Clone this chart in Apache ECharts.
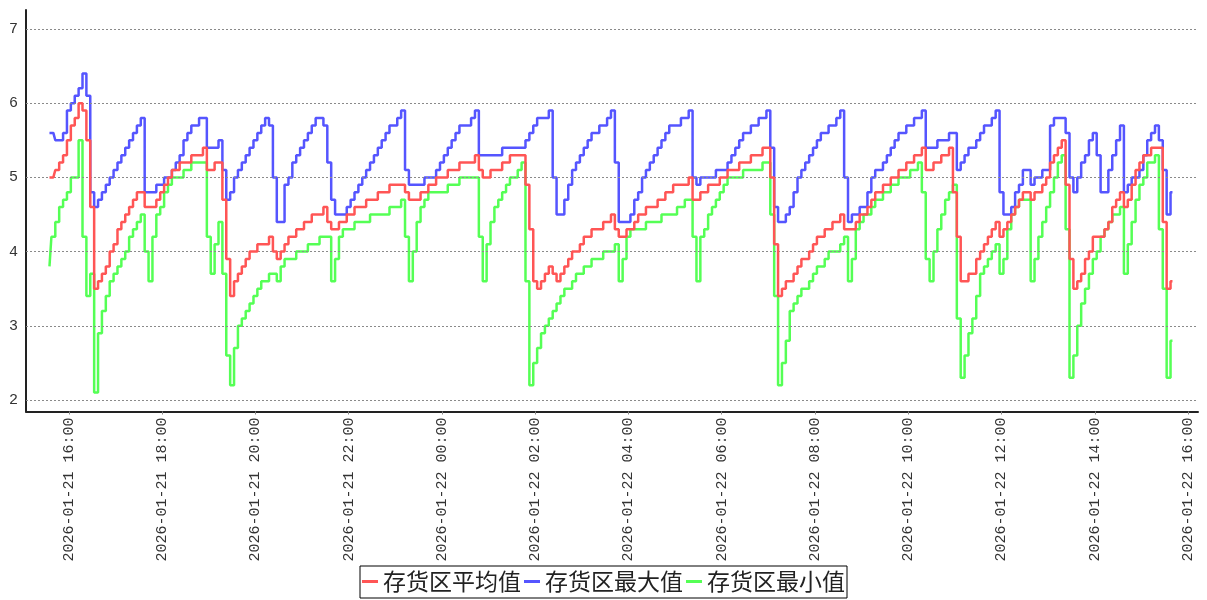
<!DOCTYPE html>
<html>
<head>
<meta charset="utf-8">
<script src="https://cdn.jsdelivr.net/npm/echarts@6/dist/echarts.min.js"></script>
<style>
  html, body { margin: 0; padding: 0; background: #fff; }
  #chart { width: 1207px; height: 600px; }
</style>
</head>
<body>
<div id="chart"></div>
<script>
// Inventory-zone readings, one sample every 5 minutes from 2026-01-21 15:35
const sampleStart = [2026, 0, 21, 15, 35];
const sampleStepMinutes = 5;

const seriesNames = ['存货区平均值', '存货区最大值', '存货区最小值'];

const avgValues = [
  5.0, 5.0, 5.1, 5.2, 5.3, 5.5, 5.7, 5.8, 6.0, 5.9,
  5.5, 4.6, 3.5, 3.6, 3.7, 3.8, 4.0, 4.1, 4.3, 4.4,
  4.5, 4.6, 4.7, 4.8, 4.8, 4.6, 4.6, 4.6, 4.7, 4.8,
  4.9, 5.0, 5.1, 5.1, 5.2, 5.2, 5.2, 5.3, 5.3, 5.3,
  5.4, 5.1, 5.1, 5.2, 5.2, 4.7, 3.9, 3.4, 3.6, 3.7,
  3.8, 3.9, 4.0, 4.0, 4.1, 4.1, 4.1, 4.2, 4.0, 3.9,
  4.0, 4.1, 4.2, 4.2, 4.3, 4.3, 4.4, 4.4, 4.5, 4.5,
  4.5, 4.6, 4.4, 4.3, 4.3, 4.4, 4.4, 4.5, 4.5, 4.6,
  4.6, 4.6, 4.7, 4.7, 4.7, 4.8, 4.8, 4.8, 4.9, 4.9,
  4.9, 4.9, 4.8, 4.7, 4.7, 4.7, 4.8, 4.8, 4.9, 4.9,
  5.0, 5.0, 5.0, 5.1, 5.1, 5.1, 5.2, 5.2, 5.2, 5.2,
  5.3, 5.1, 5.0, 5.0, 5.1, 5.1, 5.1, 5.2, 5.2, 5.3,
  5.3, 5.3, 5.3, 4.9, 4.3, 3.6, 3.5, 3.6, 3.7, 3.8,
  3.7, 3.6, 3.7, 3.8, 3.9, 4.0, 4.0, 4.1, 4.2, 4.2,
  4.3, 4.3, 4.3, 4.4, 4.4, 4.5, 4.3, 4.2, 4.2, 4.3,
  4.3, 4.4, 4.5, 4.5, 4.6, 4.6, 4.6, 4.7, 4.7, 4.8,
  4.8, 4.9, 4.9, 4.9, 4.9, 5.0, 4.7, 4.7, 4.8, 4.8,
  4.9, 4.9, 4.9, 5.0, 5.0, 5.1, 5.1, 5.1, 5.2, 5.2,
  5.2, 5.3, 5.3, 5.3, 5.4, 5.4, 5.0, 4.1, 3.4, 3.5,
  3.6, 3.6, 3.7, 3.8, 3.9, 3.9, 4.0, 4.1, 4.2, 4.2,
  4.3, 4.3, 4.4, 4.4, 4.5, 4.3, 4.3, 4.3, 4.4, 4.5,
  4.5, 4.6, 4.7, 4.8, 4.8, 4.9, 4.9, 5.0, 5.0, 5.1,
  5.1, 5.2, 5.2, 5.3, 5.3, 5.4, 5.1, 5.1, 5.2, 5.2,
  5.3, 5.3, 5.4, 4.8, 4.2, 3.6, 3.6, 3.7, 3.7, 3.9,
  4.0, 4.1, 4.2, 4.3, 4.4, 4.2, 4.3, 4.4, 4.5, 4.6,
  4.7, 4.8, 4.8, 4.7, 4.8, 4.8, 4.9, 5.0, 5.2, 5.3,
  5.4, 5.5, 4.9, 3.9, 3.5, 3.6, 3.7, 3.9, 4.0, 4.2,
  4.2, 4.2, 4.3, 4.4, 4.6, 4.7, 4.8, 4.6, 4.7, 4.9,
  5.1, 5.2, 5.3, 5.3, 5.4, 5.4, 5.4, 4.4, 3.5, 3.6
];

const maxValues = [
  5.6, 5.6, 5.5, 5.5, 5.6, 5.9, 6.0, 6.1, 6.2, 6.4,
  6.1, 4.8, 4.6, 4.7, 4.8, 4.9, 5.0, 5.1, 5.2, 5.3,
  5.4, 5.5, 5.6, 5.7, 5.8, 4.8, 4.8, 4.8, 4.9, 4.9,
  5.0, 5.0, 5.1, 5.2, 5.3, 5.5, 5.6, 5.7, 5.7, 5.8,
  5.8, 5.4, 5.4, 5.4, 5.5, 5.1, 4.7, 4.8, 5.0, 5.1,
  5.2, 5.3, 5.4, 5.5, 5.6, 5.7, 5.8, 5.7, 5.0, 4.4,
  4.4, 4.9, 5.0, 5.2, 5.3, 5.4, 5.5, 5.6, 5.7, 5.8,
  5.8, 5.7, 5.2, 4.7, 4.5, 4.5, 4.5, 4.6, 4.7, 4.8,
  4.9, 5.0, 5.1, 5.2, 5.3, 5.4, 5.5, 5.6, 5.7, 5.7,
  5.8, 5.9, 5.1, 4.9, 4.9, 4.9, 4.9, 5.0, 5.0, 5.0,
  5.1, 5.2, 5.3, 5.4, 5.5, 5.6, 5.7, 5.7, 5.7, 5.8,
  5.9, 5.3, 5.3, 5.3, 5.3, 5.3, 5.3, 5.4, 5.4, 5.4,
  5.4, 5.4, 5.4, 5.5, 5.6, 5.7, 5.8, 5.8, 5.8, 5.9,
  5.0, 4.5, 4.5, 4.7, 4.9, 5.1, 5.2, 5.3, 5.4, 5.5,
  5.6, 5.6, 5.7, 5.7, 5.8, 5.9, 5.2, 4.4, 4.4, 4.4,
  4.5, 4.7, 4.8, 5.0, 5.1, 5.2, 5.3, 5.4, 5.5, 5.6,
  5.7, 5.7, 5.7, 5.8, 5.8, 5.9, 5.0, 4.9, 5.0, 5.0,
  5.0, 5.0, 5.1, 5.1, 5.1, 5.2, 5.3, 5.4, 5.5, 5.6,
  5.6, 5.7, 5.7, 5.8, 5.8, 5.9, 5.4, 4.6, 4.4, 4.4,
  4.5, 4.6, 4.8, 5.0, 5.1, 5.2, 5.3, 5.4, 5.5, 5.6,
  5.6, 5.7, 5.7, 5.8, 5.9, 5.0, 4.4, 4.5, 4.5, 4.6,
  4.6, 4.8, 5.0, 5.1, 5.1, 5.2, 5.3, 5.4, 5.5, 5.6,
  5.6, 5.7, 5.7, 5.8, 5.8, 5.9, 5.4, 5.4, 5.4, 5.5,
  5.5, 5.5, 5.6, 5.6, 5.1, 5.2, 5.3, 5.4, 5.4, 5.5,
  5.6, 5.7, 5.7, 5.8, 5.9, 4.8, 4.5, 4.5, 4.6, 4.8,
  4.9, 5.1, 5.1, 4.9, 5.0, 5.0, 5.1, 5.1, 5.7, 5.8,
  5.8, 5.8, 5.6, 5.0, 4.8, 5.0, 5.2, 5.3, 5.5, 5.6,
  5.3, 4.8, 4.8, 5.1, 5.3, 5.5, 5.7, 4.8, 4.9, 5.0,
  5.0, 5.1, 5.3, 5.5, 5.6, 5.7, 5.5, 5.1, 4.5, 4.8
];

const minValues = [
  3.8, 4.2, 4.4, 4.6, 4.7, 4.8, 5.0, 5.0, 5.5, 4.2,
  3.4, 3.7, 2.1, 2.9, 3.2, 3.4, 3.6, 3.7, 3.8, 3.9,
  4.0, 4.2, 4.3, 4.4, 4.5, 4.0, 3.6, 4.2, 4.5, 4.6,
  4.8, 4.9, 5.0, 5.0, 5.0, 5.1, 5.1, 5.2, 5.2, 5.2,
  5.2, 4.2, 3.7, 4.1, 4.4, 3.7, 2.6, 2.2, 2.7, 3.0,
  3.1, 3.2, 3.3, 3.4, 3.5, 3.6, 3.6, 3.7, 3.7, 3.6,
  3.8, 3.9, 3.9, 3.9, 4.0, 4.0, 4.0, 4.1, 4.1, 4.1,
  4.2, 4.2, 4.2, 3.6, 3.9, 4.2, 4.3, 4.3, 4.3, 4.4,
  4.4, 4.4, 4.4, 4.5, 4.5, 4.5, 4.5, 4.5, 4.6, 4.6,
  4.6, 4.7, 4.2, 3.6, 4.0, 4.4, 4.6, 4.7, 4.8, 4.8,
  4.8, 4.8, 4.8, 4.9, 4.9, 4.9, 5.0, 5.0, 5.0, 5.0,
  5.0, 4.2, 3.6, 4.1, 4.4, 4.6, 4.7, 4.8, 4.9, 5.0,
  5.0, 5.1, 5.2, 3.6, 2.2, 2.5, 2.7, 2.9, 3.0, 3.1,
  3.2, 3.3, 3.4, 3.5, 3.5, 3.6, 3.7, 3.7, 3.8, 3.8,
  3.9, 3.9, 3.9, 4.0, 4.0, 4.0, 4.1, 3.6, 3.9, 4.2,
  4.3, 4.3, 4.3, 4.3, 4.4, 4.4, 4.4, 4.4, 4.5, 4.5,
  4.5, 4.5, 4.6, 4.6, 4.7, 4.7, 4.2, 3.6, 4.2, 4.3,
  4.5, 4.6, 4.7, 4.8, 4.9, 5.0, 5.0, 5.0, 5.0, 5.1,
  5.1, 5.1, 5.1, 5.1, 5.2, 5.2, 4.5, 3.4, 2.2, 2.5,
  2.8, 3.2, 3.3, 3.4, 3.5, 3.5, 3.6, 3.7, 3.8, 3.8,
  3.9, 4.0, 4.0, 4.0, 4.1, 4.2, 3.6, 3.9, 4.3, 4.4,
  4.5, 4.5, 4.6, 4.7, 4.7, 4.8, 4.8, 4.9, 4.9, 5.0,
  5.0, 5.0, 5.1, 5.1, 5.2, 4.8, 3.9, 3.6, 4.0, 4.3,
  4.5, 4.7, 4.8, 4.9, 3.1, 2.3, 2.6, 2.9, 3.1, 3.4,
  3.7, 3.8, 3.9, 4.0, 4.1, 3.7, 3.9, 4.3, 4.5, 4.6,
  4.7, 4.7, 4.7, 3.6, 3.9, 4.2, 4.4, 4.6, 4.8, 5.0,
  5.2, 5.3, 4.3, 2.3, 2.6, 3.0, 3.3, 3.5, 3.7, 3.9,
  4.0, 4.2, 4.3, 4.4, 4.5, 4.5, 4.6, 3.7, 4.1, 4.4,
  4.7, 4.9, 5.0, 5.2, 5.2, 5.3, 4.3, 3.5, 2.3, 2.8
];

const yTicks = [2, 3, 4, 5, 6, 7];
const seriesColors = ['#ff5555', '#5555ff', '#55ff55'];

// sample timestamps
const t0 = new Date(sampleStart[0], sampleStart[1], sampleStart[2], sampleStart[3], sampleStart[4]).getTime();
const timeAt = i => t0 + i * sampleStepMinutes * 60000;
const toPairs = vals => vals.map((v, i) => [timeAt(i), v]);

const xMin = new Date(2026, 0, 21, 15, 4, 48).getTime();
const xMax = new Date(2026, 0, 22, 16, 12, 50).getTime();

const pad = n => String(n).padStart(2, '0');
function timeLabel(v) {
  const d = new Date(v);
  if (d.getMinutes() !== 0 || d.getSeconds() !== 0 || d.getHours() % 2 !== 0) return '';
  return d.getFullYear() + '-' + pad(d.getMonth() + 1) + '-' + pad(d.getDate()) + ' ' +
         pad(d.getHours()) + ':' + pad(d.getMinutes());
}

const chart = echarts.init(document.getElementById('chart'), null, { renderer: 'canvas' });

const lineSeries = [avgValues, maxValues, minValues].map((vals, k) => ({
  name: seriesNames[k],
  type: 'line',
  data: toPairs(vals),
  step: 'middle',
  symbol: 'none',
  showSymbol: false,
  z: 5 - k,
  lineStyle: { width: 2.5, color: seriesColors[k] },
  itemStyle: { color: seriesColors[k] },
  emphasis: { disabled: true }
}));

// horizontal grid lines at the integer ticks
const gridSeries = {
  name: 'grid',
  type: 'line',
  data: [],
  z: 1,
  silent: true,
  markLine: {
    silent: true,
    symbol: ['none', 'none'],
    label: { show: false },
    lineStyle: { color: '#8a8a8a', width: 1, type: [2, 2] },
    emphasis: { disabled: true },
    data: yTicks.map(v => ({ yAxis: v }))
  }
};

chart.setOption({
  animation: false,
  backgroundColor: '#ffffff',
  grid: { left: 26, right: 9, top: 10, bottom: 188.5, containLabel: false },
  legend: {
    data: seriesNames,
    left: 360,
    top: 566,
    icon: 'rect',
    itemWidth: 16,
    itemHeight: 3,
    itemGap: 3,
    padding: [4, 2, 5, 2],
    borderColor: '#000',
    borderWidth: 1,
    borderRadius: 0,
    selectedMode: false,
    textStyle: { fontFamily: 'Noto Sans CJK SC', fontSize: 23, color: '#222' }
  },
  xAxis: {
    type: 'time',
    min: xMin,
    max: xMax,
    splitNumber: 12,
    axisLine: { show: true, lineStyle: { color: '#222', width: 2 } },
    axisTick: { show: true, length: 3, lineStyle: { color: '#888' } },
    splitLine: { show: false },
    axisLabel: {
      rotate: 90,
      margin: 6,
      showMinLabel: false,
      showMaxLabel: false,
      hideOverlap: false,
      fontFamily: 'Liberation Mono',
      fontSize: 15,
      color: '#333',
      formatter: v => timeLabel(v)
    }
  },
  yAxis: {
    type: 'value',
    min: 1.845,
    max: 7.256,
    splitNumber: 5,
    axisLine: { show: true, lineStyle: { color: '#222', width: 2 } },
    axisTick: { show: false },
    splitLine: { show: false },
    axisLabel: {
      margin: 8,
      fontFamily: 'Liberation Mono',
      fontSize: 15,
      color: '#333',
      formatter: v => (Math.abs(v - Math.round(v)) < 1e-6 && yTicks.indexOf(Math.round(v)) >= 0) ? String(Math.round(v)) : ''
    }
  },
  series: [gridSeries].concat(lineSeries)
});
</script>
</body>
</html>
